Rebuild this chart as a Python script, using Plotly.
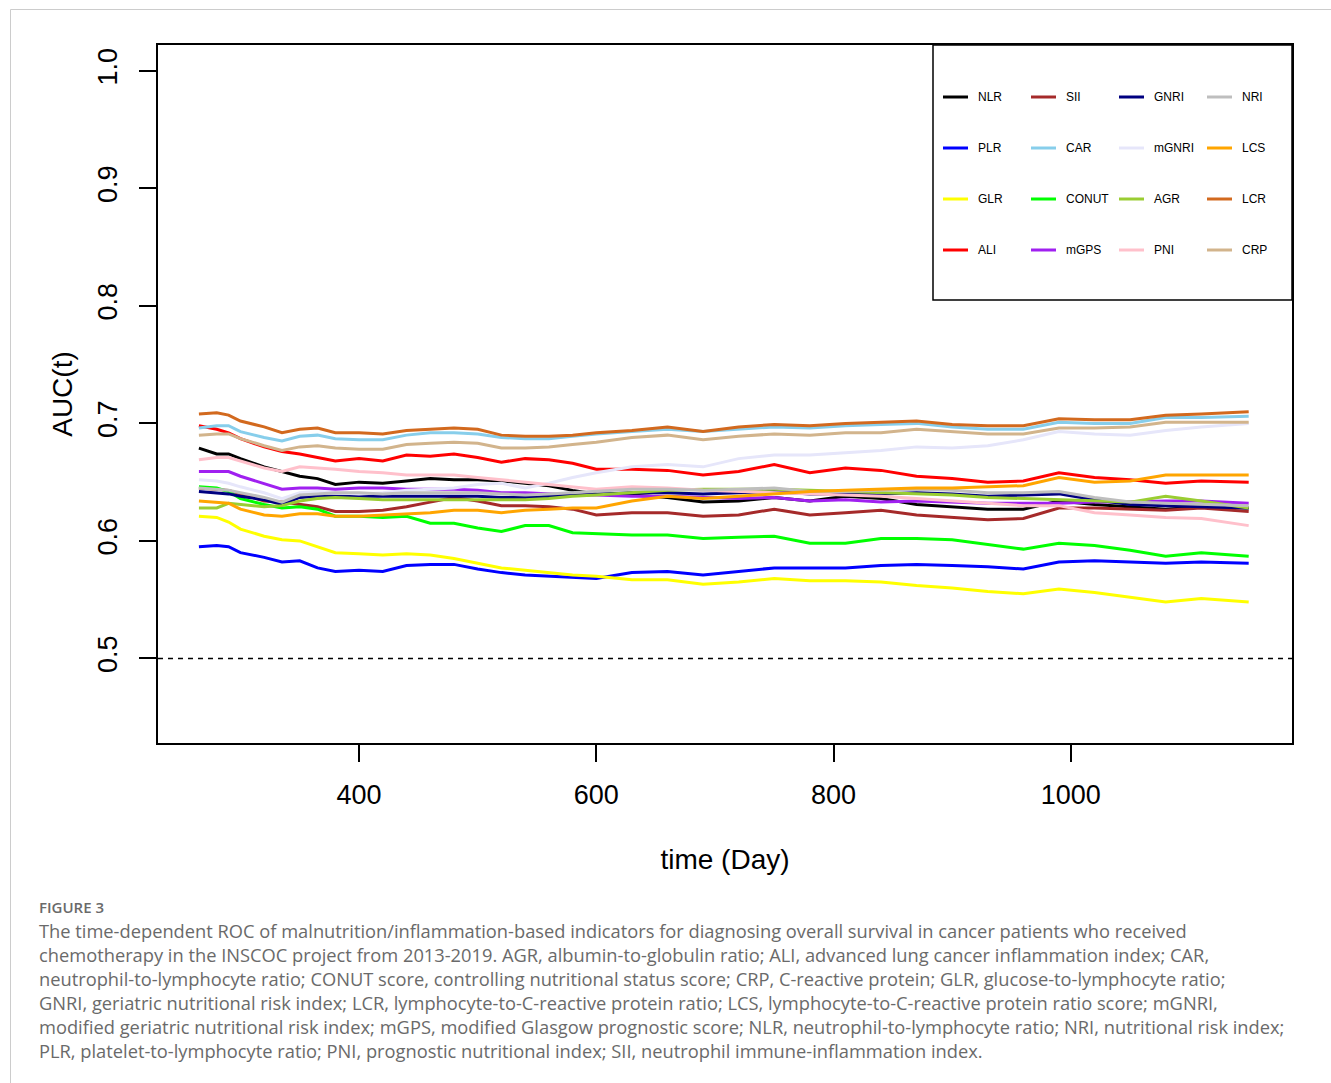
import plotly.graph_objects as go

# ---------------- data ----------------
time_days = [265, 280, 290, 300, 320, 335, 350, 365, 380, 400, 420, 440, 460, 480, 500,
             520, 540, 560, 580, 600, 630, 660, 690, 720, 750, 780, 810, 840, 870, 900,
             930, 960, 990, 1020, 1050, 1080, 1110, 1150]

NLR = [0.679, 0.674, 0.674, 0.670, 0.663, 0.659, 0.655, 0.653, 0.648, 0.650, 0.649, 0.651, 0.653, 0.652, 0.652,
       0.651, 0.649, 0.647, 0.643, 0.640, 0.639, 0.637, 0.633, 0.634, 0.637, 0.634, 0.638, 0.636, 0.631, 0.629,
       0.627, 0.627, 0.634, 0.631, 0.629, 0.627, 0.629, 0.628]
PLR = [0.595, 0.596, 0.595, 0.590, 0.586, 0.582, 0.583, 0.577, 0.574, 0.575, 0.574, 0.579, 0.580, 0.580, 0.576,
       0.573, 0.571, 0.570, 0.569, 0.568, 0.573, 0.574, 0.571, 0.574, 0.577, 0.577, 0.577, 0.579, 0.580, 0.579,
       0.578, 0.576, 0.582, 0.583, 0.582, 0.581, 0.582, 0.581]
GLR = [0.621, 0.620, 0.616, 0.610, 0.604, 0.601, 0.600, 0.595, 0.590, 0.589, 0.588, 0.589, 0.588, 0.585, 0.581,
       0.577, 0.575, 0.573, 0.571, 0.570, 0.567, 0.567, 0.563, 0.565, 0.568, 0.566, 0.566, 0.565, 0.562, 0.560,
       0.557, 0.555, 0.559, 0.556, 0.552, 0.548, 0.551, 0.548]
ALI = [0.698, 0.695, 0.692, 0.687, 0.680, 0.676, 0.674, 0.671, 0.668, 0.670, 0.668, 0.673, 0.672, 0.674, 0.671,
       0.667, 0.670, 0.669, 0.666, 0.661, 0.661, 0.660, 0.656, 0.659, 0.665, 0.658, 0.662, 0.660, 0.655, 0.653,
       0.650, 0.651, 0.658, 0.654, 0.652, 0.649, 0.651, 0.650]
SII = [0.645, 0.644, 0.643, 0.640, 0.634, 0.633, 0.631, 0.629, 0.625, 0.625, 0.626, 0.629, 0.633, 0.637, 0.634,
       0.630, 0.630, 0.629, 0.627, 0.622, 0.624, 0.624, 0.621, 0.622, 0.627, 0.622, 0.624, 0.626, 0.622, 0.620,
       0.618, 0.619, 0.628, 0.628, 0.627, 0.626, 0.628, 0.625]
CAR = [0.696, 0.698, 0.698, 0.693, 0.688, 0.685, 0.689, 0.690, 0.687, 0.686, 0.686, 0.690, 0.692, 0.692, 0.691,
       0.688, 0.687, 0.687, 0.689, 0.691, 0.693, 0.695, 0.693, 0.695, 0.697, 0.696, 0.698, 0.699, 0.700, 0.697,
       0.695, 0.695, 0.701, 0.700, 0.700, 0.705, 0.705, 0.706]
CONUT = [0.646, 0.645, 0.642, 0.636, 0.631, 0.628, 0.629, 0.627, 0.621, 0.621, 0.620, 0.621, 0.615, 0.615, 0.611,
         0.608, 0.613, 0.613, 0.607, 0.606, 0.605, 0.605, 0.602, 0.603, 0.604, 0.598, 0.598, 0.602, 0.602, 0.601,
         0.597, 0.593, 0.598, 0.596, 0.592, 0.587, 0.590, 0.587]
mGPS = [0.659, 0.659, 0.659, 0.655, 0.649, 0.644, 0.645, 0.645, 0.644, 0.645, 0.645, 0.644, 0.644, 0.644, 0.643,
        0.641, 0.641, 0.640, 0.639, 0.639, 0.638, 0.638, 0.637, 0.636, 0.637, 0.634, 0.635, 0.633, 0.634, 0.633,
        0.632, 0.632, 0.632, 0.633, 0.633, 0.634, 0.634, 0.632]
GNRI = [0.642, 0.641, 0.640, 0.638, 0.635, 0.631, 0.637, 0.638, 0.638, 0.638, 0.638, 0.638, 0.638, 0.638, 0.638,
        0.637, 0.637, 0.638, 0.639, 0.640, 0.641, 0.641, 0.640, 0.641, 0.642, 0.640, 0.640, 0.640, 0.641, 0.640,
        0.638, 0.639, 0.640, 0.635, 0.631, 0.630, 0.629, 0.628]
mGNRI = [0.652, 0.651, 0.649, 0.646, 0.641, 0.636, 0.641, 0.642, 0.641, 0.640, 0.641, 0.643, 0.644, 0.645, 0.648,
         0.649, 0.645, 0.649, 0.654, 0.658, 0.663, 0.665, 0.663, 0.670, 0.673, 0.673, 0.675, 0.677, 0.680, 0.679,
         0.681, 0.686, 0.693, 0.691, 0.690, 0.694, 0.697, 0.700]
AGR = [0.628, 0.628, 0.632, 0.631, 0.629, 0.630, 0.634, 0.636, 0.637, 0.636, 0.635, 0.635, 0.635, 0.635, 0.635,
       0.635, 0.635, 0.636, 0.638, 0.639, 0.641, 0.643, 0.644, 0.644, 0.644, 0.643, 0.642, 0.641, 0.640, 0.639,
       0.637, 0.636, 0.635, 0.634, 0.633, 0.638, 0.634, 0.628]
PNI = [0.669, 0.671, 0.671, 0.668, 0.662, 0.659, 0.663, 0.662, 0.661, 0.659, 0.658, 0.656, 0.656, 0.656, 0.654,
       0.652, 0.650, 0.648, 0.646, 0.644, 0.646, 0.645, 0.643, 0.642, 0.641, 0.640, 0.639, 0.638, 0.636, 0.634,
       0.632, 0.630, 0.630, 0.624, 0.622, 0.620, 0.619, 0.613]
NRI = [0.645, 0.644, 0.643, 0.641, 0.637, 0.633, 0.639, 0.640, 0.641, 0.641, 0.640, 0.641, 0.641, 0.641, 0.641,
       0.640, 0.639, 0.640, 0.641, 0.642, 0.644, 0.644, 0.643, 0.644, 0.645, 0.642, 0.642, 0.643, 0.644, 0.643,
       0.641, 0.641, 0.642, 0.637, 0.633, 0.632, 0.631, 0.630]
LCS = [0.634, 0.633, 0.632, 0.627, 0.622, 0.621, 0.623, 0.623, 0.621, 0.621, 0.622, 0.623, 0.624, 0.626, 0.626,
       0.624, 0.626, 0.627, 0.628, 0.628, 0.634, 0.638, 0.636, 0.638, 0.640, 0.642, 0.643, 0.644, 0.645, 0.645,
       0.646, 0.647, 0.654, 0.650, 0.651, 0.656, 0.656, 0.656]
LCR = [0.708, 0.709, 0.707, 0.702, 0.697, 0.692, 0.695, 0.696, 0.692, 0.692, 0.691, 0.694, 0.695, 0.696, 0.695,
       0.690, 0.689, 0.689, 0.690, 0.692, 0.694, 0.697, 0.693, 0.697, 0.699, 0.698, 0.700, 0.701, 0.702, 0.699,
       0.698, 0.698, 0.704, 0.703, 0.703, 0.707, 0.708, 0.710]
CRP = [0.690, 0.691, 0.691, 0.687, 0.681, 0.677, 0.680, 0.681, 0.679, 0.678, 0.678, 0.682, 0.683, 0.684, 0.683,
       0.679, 0.679, 0.680, 0.682, 0.684, 0.688, 0.690, 0.686, 0.689, 0.691, 0.690, 0.692, 0.692, 0.695, 0.693,
       0.691, 0.691, 0.696, 0.696, 0.697, 0.701, 0.701, 0.701]

series_names = ["NLR", "PLR", "GLR", "ALI", "SII", "CAR", "CONUT", "mGPS",
                "GNRI", "mGNRI", "AGR", "PNI", "NRI", "LCS", "LCR", "CRP"]
series_values = [NLR, PLR, GLR, ALI, SII, CAR, CONUT, mGPS,
                 GNRI, mGNRI, AGR, PNI, NRI, LCS, LCR, CRP]
series_colors = ["#000000", "#0000FF", "#FFFF00", "#FF0000", "#A52A2A", "#87CEEB", "#00FF00", "#A020F0",
                 "#000080", "#E6E6FA", "#9ACD32", "#FFC0CB", "#BEBEBE", "#FFA500", "#D2691E", "#D2B48C"]

x_ticks = [400, 600, 800, 1000]
y_ticks = [0.5, 0.6, 0.7, 0.8, 0.9, 1.0]
reference_auc = 0.5

caption_title = "FIGURE 3"
caption_lines = [
    "The time-dependent ROC of malnutrition/inflammation-based indicators for diagnosing overall survival in cancer patients who received",
    "chemotherapy in the INSCOC project from 2013-2019. AGR, albumin-to-globulin ratio; ALI, advanced lung cancer inflammation index; CAR,",
    "neutrophil-to-lymphocyte ratio; CONUT score, controlling nutritional status score; CRP, C-reactive protein; GLR, glucose-to-lymphocyte ratio;",
    "GNRI, geriatric nutritional risk index; LCR, lymphocyte-to-C-reactive protein ratio; LCS, lymphocyte-to-C-reactive protein ratio score; mGNRI,",
    "modified geriatric nutritional risk index; mGPS, modified Glasgow prognostic score; NLR, neutrophil-to-lymphocyte ratio; NRI, nutritional risk index;",
    "PLR, platelet-to-lymphocyte ratio; PNI, prognostic nutritional index; SII, neutrophil immune-inflammation index.",
]

# ---------------- layout helpers ----------------
W, H = 1331, 1083
PL, PR, PT, PB = 158, 1292, 45, 743


def px(xp):
    return (xp - PL) / (PR - PL)


def py(yp):
    return (PB - yp) / (PB - PT)


fig = go.Figure()
for name, vals, col in zip(series_names, series_values, series_colors):
    fig.add_trace(go.Scatter(x=time_days, y=vals, mode="lines", name=name,
                             line=dict(color=col, width=3), showlegend=False))

shapes = []
annotations = []

# reference dashed line
shapes.append(dict(type="line", xref="paper", yref="y", x0=0, x1=1, y0=reference_auc, y1=reference_auc,
                   line=dict(color="black", width=1.5, dash="5px,5px")))

# legend box
shapes.append(dict(type="rect", xref="paper", yref="paper", x0=px(933), x1=1, y0=py(300), y1=1,
                   line=dict(color="black", width=1.5), fillcolor="white", layer="above"))

legend_grid = [["NLR", "SII", "GNRI", "NRI"],
               ["PLR", "CAR", "mGNRI", "LCS"],
               ["GLR", "CONUT", "AGR", "LCR"],
               ["ALI", "mGPS", "PNI", "CRP"]]
col_x = [943, 1031, 1119, 1207]
row_y = [97, 148, 199, 250]
color_map = dict(zip(series_names, series_colors))
for r, row in enumerate(legend_grid):
    for c, nm in enumerate(row):
        shapes.append(dict(type="line", xref="paper", yref="paper",
                           x0=px(col_x[c]), x1=px(col_x[c] + 25), y0=py(row_y[r]), y1=py(row_y[r]),
                           line=dict(color=color_map[nm], width=3), layer="above"))
        annotations.append(dict(text=nm, xref="paper", yref="paper", x=px(col_x[c] + 33), y=py(row_y[r]),
                                xanchor="left", yanchor="middle", showarrow=False,
                                font=dict(family="Liberation Sans, Arial", size=12, color="black")))

# outer frame (top and left light-gray rules)
shapes.append(dict(type="line", xref="paper", yref="paper", x0=px(10.5), x1=px(1331), y0=py(9.5), y1=py(9.5),
                   line=dict(color="#cccccc", width=1)))
shapes.append(dict(type="line", xref="paper", yref="paper", x0=px(10.5), x1=px(10.5), y0=py(9.5), y1=py(1083),
                   line=dict(color="#cccccc", width=1)))

# caption
annotations.append(dict(text=caption_title, xref="paper", yref="paper", x=px(37), y=py(907),
                        xanchor="left", yanchor="middle", showarrow=False,
                        font=dict(family="Open Sans", size=15, color="#6a6a6a", weight=600)))
for i, line in enumerate(caption_lines):
    annotations.append(dict(text=line, xref="paper", yref="paper", x=px(37), y=py(930 + 24 * i),
                            xanchor="left", yanchor="middle", showarrow=False,
                            font=dict(family="Open Sans", size=18.3, color="#6a6a6a")))

axis_font = dict(family="Liberation Sans, Arial", size=27, color="black")
title_font = dict(family="Liberation Sans, Arial", size=28, color="black")

fig.update_layout(
    width=W, height=H,
    margin=dict(l=PL, r=W - PR, t=PT, b=H - PB),
    paper_bgcolor="white", plot_bgcolor="white",
    shapes=shapes, annotations=annotations,
    xaxis=dict(range=[230.5, 1186.5], tickvals=x_ticks, ticks="outside", ticklen=17, tickwidth=1.5,
               tickcolor="black", showline=True, linecolor="black", linewidth=1.5, mirror=True,
               showgrid=False, zeroline=False, tickfont=axis_font, ticklabelstandoff=10,
               title=dict(text="time (Day)", font=title_font, standoff=40)),
    yaxis=dict(range=[0.428, 1.022], tickvals=y_ticks, tickformat=".1f", ticks="outside", ticklen=17,
               tickwidth=1.5, tickcolor="black", showline=True, linecolor="black", linewidth=1.5, mirror=True,
               showgrid=False, zeroline=False, tickfont=axis_font, tickangle=-90, ticklabelstandoff=11,
               title=dict(text="AUC(t)", font=title_font, standoff=13)),
)

fig.write_html("out.html")
